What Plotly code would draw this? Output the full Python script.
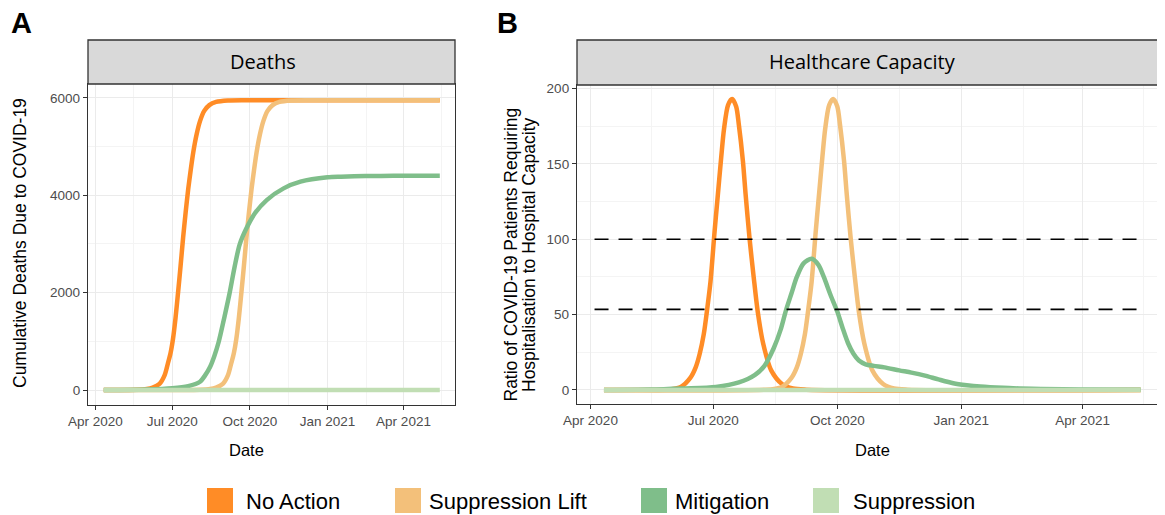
import plotly.graph_objects as go

# the page body adds an 8px margin, so the figure is made 8px smaller
# and all target pixel positions are shifted by that offset
OFF = 8
W, H = 1165 - OFF, 515 - OFF

# ---- data -------------------------------------------------------------
scenarios = ["No Action", "Suppression Lift", "Mitigation", "Suppression"]
colors = ["#FF8C26", "#F3C07A", "#7FBE8A", "#C1DEB4"]

# cumulative deaths
deaths_noaction_dates = ["2020-04-11", "2020-05-20", "2020-06-01", "2020-06-08", "2020-06-16",
                         "2020-06-22", "2020-06-26", "2020-06-29", "2020-07-02", "2020-07-05",
                         "2020-07-08", "2020-07-11", "2020-07-14", "2020-07-17", "2020-07-20",
                         "2020-07-23", "2020-07-26", "2020-07-30", "2020-08-03", "2020-08-08",
                         "2020-08-14", "2020-08-22", "2020-09-05", "2020-10-01", "2021-05-14"]
deaths_noaction = [0, 5, 20, 50, 125, 300, 550, 750, 1050, 1480, 2000, 2550, 3130, 3650, 4120,
                   4520, 4880, 5250, 5520, 5730, 5850, 5915, 5945, 5950, 5950]

deaths_lift_dates = ["2020-04-11", "2020-08-03", "2020-08-15", "2020-08-22", "2020-08-30",
                     "2020-09-05", "2020-09-09", "2020-09-12", "2020-09-15", "2020-09-18",
                     "2020-09-21", "2020-09-24", "2020-09-27", "2020-09-30", "2020-10-03",
                     "2020-10-06", "2020-10-09", "2020-10-13", "2020-10-17", "2020-10-22",
                     "2020-10-28", "2020-11-05", "2020-11-19", "2020-12-15", "2021-05-14"]
deaths_lift = [0, 5, 20, 50, 125, 300, 550, 750, 1050, 1480, 2000, 2550, 3130, 3650, 4120,
               4520, 4880, 5250, 5520, 5730, 5850, 5915, 5945, 5950, 5950]

deaths_mitig_dates = ["2020-04-11", "2020-06-01", "2020-07-01", "2020-07-20", "2020-08-03",
                      "2020-08-09", "2020-08-15", "2020-08-20", "2020-08-25", "2020-09-01",
                      "2020-09-07", "2020-09-13", "2020-09-19", "2020-09-27", "2020-10-07",
                      "2020-10-21", "2020-11-10", "2020-11-30", "2021-01-01", "2021-01-17",
                      "2021-02-15", "2021-03-20", "2021-05-14"]
deaths_mitig = [0, 10, 35, 80, 170, 300, 478, 700, 980, 1505, 1985, 2530, 2990, 3320, 3628,
                3900, 4140, 4277, 4367, 4380, 4392, 4398, 4400]

deaths_supp_dates = ["2020-04-11", "2021-05-14"]
deaths_supp = [0, 0]

# ratio of patients requiring hospitalisation to hospital capacity
hosp_noaction_dates = ["2020-04-11", "2020-05-31", "2020-06-07", "2020-06-14", "2020-06-18",
                       "2020-06-21", "2020-06-24", "2020-06-27", "2020-06-29", "2020-07-02",
                       "2020-07-04", "2020-07-07", "2020-07-09", "2020-07-12", "2020-07-15",
                       "2020-07-18", "2020-07-20", "2020-07-23", "2020-07-25", "2020-07-28",
                       "2020-07-31", "2020-08-03", "2020-08-07", "2020-08-13", "2020-08-21",
                       "2020-08-29", "2020-09-08", "2021-05-14"]
hosp_noaction = [0, 0.5, 2, 8, 15, 24, 37, 57, 72, 105, 125, 155, 173, 189, 193,
                 188, 176, 152, 130, 100, 75, 52, 31, 13, 4, 1, 0.2, 0]

hosp_lift_dates = ["2020-04-11", "2020-08-14", "2020-08-21", "2020-08-28", "2020-09-01",
                   "2020-09-04", "2020-09-07", "2020-09-10", "2020-09-12", "2020-09-15",
                   "2020-09-17", "2020-09-20", "2020-09-22", "2020-09-25", "2020-09-28",
                   "2020-10-01", "2020-10-03", "2020-10-06", "2020-10-08", "2020-10-11",
                   "2020-10-14", "2020-10-17", "2020-10-21", "2020-10-27", "2020-11-04",
                   "2020-11-12", "2020-11-22", "2021-05-14"]
hosp_lift = [0, 0.5, 2, 8, 15, 24, 37, 57, 72, 105, 125, 155, 173, 189, 193,
             188, 176, 152, 130, 100, 75, 52, 31, 13, 4, 1, 0.2, 0]

hosp_mitig_dates = ["2020-04-11", "2020-05-15", "2020-06-08", "2020-07-03", "2020-07-20",
                    "2020-08-01", "2020-08-08", "2020-08-15", "2020-08-20", "2020-08-24",
                    "2020-08-28", "2020-09-01", "2020-09-06", "2020-09-12", "2020-09-17",
                    "2020-09-21", "2020-09-26", "2020-10-01", "2020-10-05", "2020-10-09",
                    "2020-10-13", "2020-10-17", "2020-10-22", "2020-10-28", "2020-11-05",
                    "2020-11-16", "2020-11-25", "2020-12-05", "2020-12-15", "2020-12-26",
                    "2021-01-05", "2021-01-15", "2021-02-01", "2021-02-13", "2021-03-01",
                    "2021-03-30", "2021-05-14"]
hosp_mitig = [0, 0.3, 1, 2, 5, 10, 16, 28, 40, 53, 64, 75, 84, 87, 83, 75, 63, 52, 41, 31,
              24, 19.5, 17, 16, 15, 13, 11.5, 9.5, 7, 4.5, 3.2, 2.3, 1.4, 1, 0.6, 0.3, 0.1]

hosp_supp_dates = ["2020-04-11", "2021-05-14"]
hosp_supp = [0, 0]

capacity_levels = [100, 53.5]
capacity_dates = ["2020-04-04", "2021-05-17"]

deaths_series = [(deaths_noaction_dates, deaths_noaction), (deaths_lift_dates, deaths_lift),
                 (deaths_mitig_dates, deaths_mitig), (deaths_supp_dates, deaths_supp)]
hosp_series = [(hosp_noaction_dates, hosp_noaction), (hosp_lift_dates, hosp_lift),
               (hosp_mitig_dates, hosp_mitig), (hosp_supp_dates, hosp_supp)]

# ---- figure -----------------------------------------------------------
def px(v):
    return (v - OFF) / W

def py(v):
    return 1 - (v - OFF) / H

fig = go.Figure()

for (d, v), c in zip(deaths_series, colors):
    fig.add_trace(go.Scatter(x=d, y=v, mode="lines", xaxis="x", yaxis="y", showlegend=False,
                             line=dict(color=c, width=4.5, shape="spline", smoothing=0.8)))

for (d, v), c in zip(hosp_series, colors):
    fig.add_trace(go.Scatter(x=d, y=v, mode="lines", xaxis="x2", yaxis="y2", showlegend=False,
                             line=dict(color=c, width=4.5, shape="spline", smoothing=0.8)))

for lvl in capacity_levels:
    fig.add_trace(go.Scatter(x=capacity_dates, y=[lvl, lvl], mode="lines", xaxis="x2", yaxis="y2",
                             showlegend=False, line=dict(color="black", width=1.6, dash="14px,10px")))

font_main = "Liberation Sans, Arial, sans-serif"
tickfont = dict(family=font_main, size=13.5, color="#4D4D4D")

xcommon = dict(type="date", dtick="M3", tick0="2020-01-01", tickformat="%b %Y",
               showgrid=True, gridcolor="#EBEBEB", gridwidth=1.1,
               minor=dict(dtick="M3", tick0="2020-05-16", showgrid=True, gridcolor="#F4F4F4", gridwidth=0.6),
               ticks="outside", ticklen=4, tickcolor="#333333", tickfont=tickfont, automargin=False,
               showline=True, mirror=True, linecolor="#333333", linewidth=1.3, zeroline=False)
ycommon = dict(showgrid=True, gridcolor="#EBEBEB", gridwidth=1.1, automargin=False,
               ticks="outside", ticklen=4, tickcolor="#333333", tickfont=tickfont,
               showline=True, mirror=True, linecolor="#333333", linewidth=1.3, zeroline=False)

fig.update_layout(
    width=W, height=H, autosize=False,
    margin=dict(l=0, r=0, t=0, b=0, pad=0, autoexpand=False),
    paper_bgcolor="white", plot_bgcolor="white",
    font=dict(family=font_main, color="black"),
    xaxis=dict(xcommon, domain=[px(88), px(455)], range=["2020-03-23 08:00", "2021-06-01"], anchor="y"),
    yaxis=dict(ycommon, domain=[py(405), py(84)], range=[-308, 6283], dtick=2000,
               minor=dict(dtick=1000, showgrid=True, gridcolor="#F4F4F4", gridwidth=0.6), anchor="x"),
    xaxis2=dict(xcommon, domain=[px(577), 1.0], range=["2020-03-22", "2021-06-01"], anchor="y2"),
    yaxis2=dict(ycommon, domain=[py(404), py(85)], range=[-9.3, 202.3], dtick=50,
                minor=dict(dtick=25, showgrid=True, gridcolor="#F4F4F4", gridwidth=0.6), anchor="x2"),
)

shapes = []
annotations = []

# strips
strips = [("Deaths", 88, 455, 84, 263), ("Healthcare Capacity", 577, 1180, 85, 862)]
for label, x0, x1, ybot, xc in strips:
    shapes.append(dict(type="rect", xref="paper", yref="paper", x0=px(x0), x1=px(x1),
                       y0=py(ybot), y1=py(40), fillcolor="#D9D9D9",
                       line=dict(color="#333333", width=1.3), layer="above"))
    annotations.append(dict(text=label, x=px(xc), y=py(62), xref="paper", yref="paper",
                            showarrow=False, xanchor="center", yanchor="middle",
                            font=dict(family="Open Sans, sans-serif", size=20, color="black")))

# panel letters
for letter, xl in [("A", 9), ("B", 495)]:
    annotations.append(dict(text="<b>%s</b>" % letter, x=px(xl), y=py(23), xref="paper", yref="paper",
                            showarrow=False, xanchor="left", yanchor="middle",
                            font=dict(family=font_main, size=29, color="black")))

# axis titles
for xc in [246, 872]:
    annotations.append(dict(text="Date", x=px(xc), y=py(450), xref="paper", yref="paper",
                            showarrow=False, xanchor="center", yanchor="middle",
                            font=dict(family=font_main, size=16.5, color="black")))
annotations.append(dict(text="Cumulative Deaths Due to COVID-19", x=px(20), y=py(243),
                        xref="paper", yref="paper", showarrow=False, textangle=-90,
                        xanchor="center", yanchor="middle",
                        font=dict(family=font_main, size=17.5, color="black")))
for txt, xc in [("Ratio of COVID-19 Patients Requiring", 510.5),
                ("Hospitalisation to Hospital Capacity", 529)]:
    annotations.append(dict(text=txt, x=px(xc), y=py(255), xref="paper", yref="paper",
                            showarrow=False, textangle=-90, xanchor="center", yanchor="middle",
                            font=dict(family=font_main, size=17.5, color="black")))

# legend
legend_sq = [207, 395, 641, 813]
legend_tx = [244, 427, 673, 851]
for name, c, sx, tx in zip(scenarios, colors, legend_sq, legend_tx):
    shapes.append(dict(type="rect", xref="paper", yref="paper", x0=px(sx), x1=px(sx + 26),
                       y0=py(513), y1=py(488), fillcolor=c, line=dict(width=0)))
    annotations.append(dict(text=name, x=px(tx), y=py(501), xref="paper", yref="paper",
                            showarrow=False, xanchor="left", yanchor="middle",
                            font=dict(family=font_main, size=22, color="black")))

fig.update_layout(shapes=shapes, annotations=annotations)

fig.write_html("out.html")
